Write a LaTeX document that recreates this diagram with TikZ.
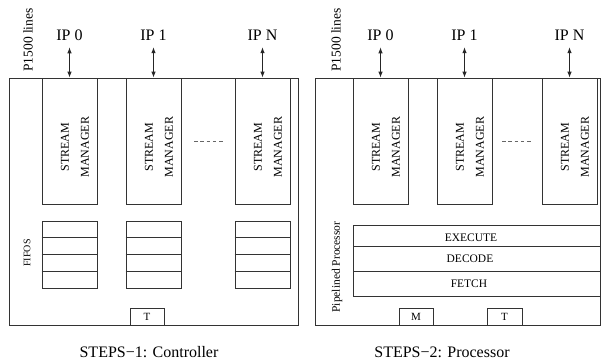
\documentclass[tikz,border=0pt]{standalone}
\usepackage{fontspec}
\setmainfont{Liberation Serif}
\usetikzlibrary{arrows.meta,calc}
\tikzset{
  sized/.style n args={2}{minimum width=#1, minimum height=#2},
  frame/.style={draw=black!80, line width=0.8pt, inner sep=0pt},
  smtext/.style={rotate=90, align=center, font=\fontsize{12}{20}\selectfont},
  iplabel/.style={anchor=base, inner xsep=0pt, inner ysep=7pt, font=\fontsize{16}{18}\selectfont},
  caption/.style={anchor=base, inner sep=1pt, font=\fontsize{16}{18}\selectfont},
  sidelabel/.style={rotate=90},
  bi/.style={{Latex[length=6pt,width=4.5pt]}-{Latex[length=6pt,width=4.5pt]}, line width=0.8pt, black!85},
  dots/.style={draw=black!60, line width=0.8pt, dash pattern=on 3.5pt off 2.8pt},
  stagetext/.style={font=\fontsize{11.5}{13}\selectfont},
  smallbox/.style={frame, font=\fontsize{11}{12}\selectfont}
}
\begin{document}
\begin{tikzpicture}[x=1pt,y=-1pt]
\useasboundingbox (0,0) rectangle (601,360);

% ---------------- STEPS-1: Controller ----------------
\node[frame, sized={289}{247}] (outerL) at (153.5,201.5) {};

\node[frame, sized={55}{126}] (smL0) at (69.5,141) {};
\node[frame, sized={55}{126}] (smL1) at (153.5,141) {};
\node[frame, sized={55}{126}] (smL2) at (262.5,141) {};
\node[smtext] (smL0t) at (75,147) {STREAM\\MANAGER};
\node[smtext] (smL1t) at (159,147) {STREAM\\MANAGER};
\node[smtext] (smL2t) at (268,147) {STREAM\\MANAGER};

\node[iplabel] (ipL0) at (69.5,40) {IP 0};
\node[iplabel] (ipL1) at (153.5,40) {IP 1};
\node[iplabel] (ipL2) at (262.5,40) {IP N};
\draw[bi] (ipL0.south) -- (smL0.north);
\draw[bi] (ipL1.south) -- (smL1.north);
\draw[bi] (ipL2.south) -- (smL2.north);

\coordinate (dotsLa) at (194,141);
\coordinate (dotsLb) at (224,141);
\draw[dots] (dotsLa) -- (dotsLb);

\foreach \n/\x in {0/69.5,1/153.5,2/262.5}{
  \node[frame, sized={55}{67}] (fifo\n) at (\x,254.5) {};
  \foreach \k in {1,2,3}{
    \draw[black!80, line width=0.8pt]
      ($(fifo\n.north west)!\k/4!(fifo\n.south west)$) -- ($(fifo\n.north east)!\k/4!(fifo\n.south east)$);
  }
}

\node[sidelabel, font=\fontsize{13.5}{15}\selectfont] (p1500L) at (28,40) {P1500 lines};
\node[sidelabel, font=\fontsize{10}{12}\selectfont] (fifosL) at (27,253) {FIFOS};

\node[smallbox, sized={34}{17}] (tL) at (147,316.5) {T};

\node[caption] (capL) at (149,357.5) {STEPS−1: Controller};

% ---------------- STEPS-2: Processor ----------------
\node[frame, sized={285}{247}] (outerR) at (457.5,201.5) {};

\node[frame, sized={55}{126}] (smR0) at (380.5,141) {};
\node[frame, sized={55}{126}] (smR1) at (464.5,141) {};
\node[frame, sized={55}{126}] (smR2) at (569.5,141) {};
\node[smtext] (smR0t) at (386,147) {STREAM\\MANAGER};
\node[smtext] (smR1t) at (470,147) {STREAM\\MANAGER};
\node[smtext] (smR2t) at (575,147) {STREAM\\MANAGER};

\node[iplabel] (ipR0) at (380.5,40) {IP 0};
\node[iplabel] (ipR1) at (464.5,40) {IP 1};
\node[iplabel] (ipR2) at (569.5,40) {IP N};
\draw[bi] (ipR0.south) -- (smR0.north);
\draw[bi] (ipR1.south) -- (smR1.north);
\draw[bi] (ipR2.south) -- (smR2.north);

\coordinate (dotsRa) at (502,141);
\coordinate (dotsRb) at (532,141);
\draw[dots] (dotsRa) -- (dotsRb);

\node[frame, sized={247}{21}] (exec) at (476.5,235.5) {};
\node[frame, sized={247}{25}] (decode) at (476.5,258.5) {};
\node[frame, sized={247}{25}] (fetch) at (476.5,283.5) {};
\node[stagetext] (exect) at (471,237.5) {EXECUTE};
\node[stagetext] (decodet) at (470,259) {DECODE};
\node[stagetext] (fetcht) at (469,283.5) {FETCH};

\node[sidelabel, font=\fontsize{13.5}{15}\selectfont] (p1500R) at (336,40) {P1500 lines};
\node[sidelabel, font=\fontsize{11.5}{13}\selectfont] (pipeR) at (337,267) {Pipelined Processor};

\node[smallbox, sized={34}{17}] (mR) at (416,316.5) {M};
\node[smallbox, sized={35}{17}] (tR) at (504.5,316.5) {T};

\node[caption] (capR) at (442,357.5) {STEPS−2: Processor};
\end{tikzpicture}
\end{document}
